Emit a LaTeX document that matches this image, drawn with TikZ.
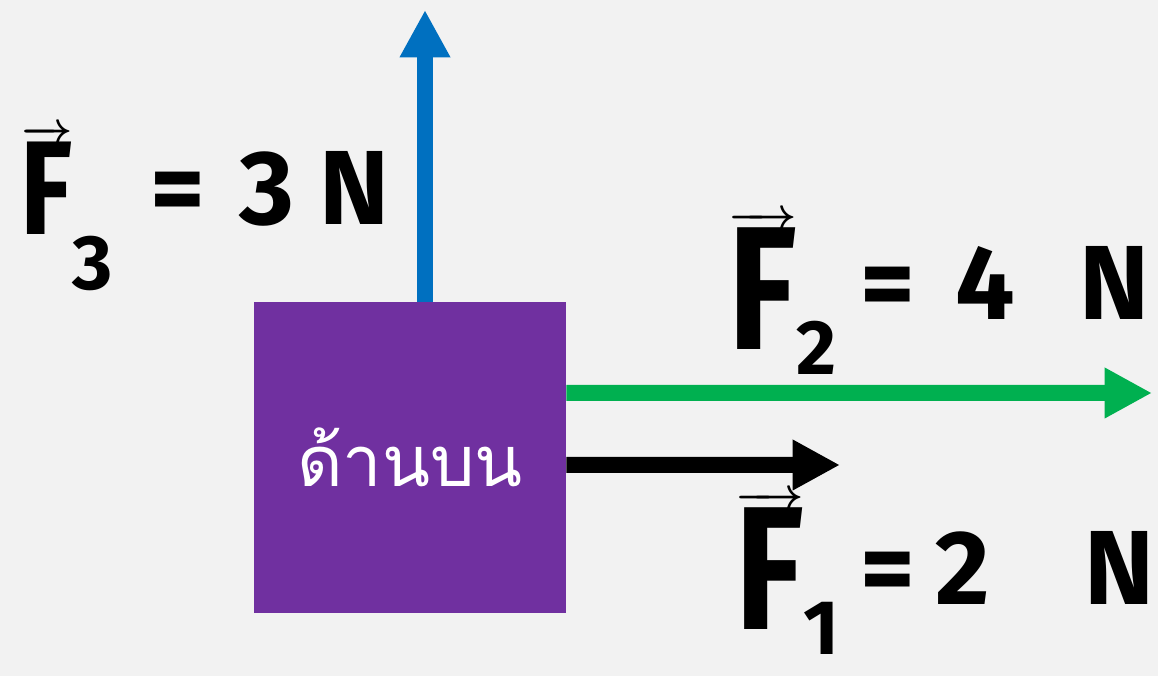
\documentclass[tikz,border=0pt]{standalone}
\usepackage{amsmath}
\usepackage{graphicx}
\usepackage{fontspec}
\usepackage{tikz}
\usetikzlibrary{arrows.meta,positioning,calc}
\newfontfamily\thaifont[Script=Thai]{Loma}
\newfontfamily\handfont{Fira Sans}
\definecolor{bgc}{HTML}{F2F2F2}
\definecolor{boxc}{HTML}{7030A0}
\definecolor{fthree}{HTML}{0070C0}
\definecolor{ftwo}{HTML}{00B050}
\definecolor{fone}{HTML}{000000}
\tikzset{
  block/.style={fill=boxc, minimum width=6.24cm, minimum height=6.22cm, inner sep=0pt,
               text=white, font=\thaifont\fontsize{40}{44}\selectfont},
  force/.style={draw=#1, line width=0.32cm, -{Triangle[length=0.95cm,width=0.95cm]}},
  sym/.style={anchor=base west, inner sep=0pt, font=\handfont\bfseries\fontsize{44}{48}\selectfont},
  val/.style={anchor=base west, inner sep=0pt, font=\handfont\bfseries\fontsize{60}{66}\selectfont},
}
% F with arrow: size, subscript, kern, drop
\newcommand{\fsym}[4]{{\fontsize{#1}{#1}\selectfont\boldmath$\overrightarrow{\text{\scalebox{0.8}[1]{F}}}$}\hspace{#3}\raisebox{-#4}{#2}}
\begin{document}
\begin{tikzpicture}
  \fill[bgc] (0,0) rectangle (23.16,13.52);
  \useasboundingbox (0,0) rectangle (23.16,13.52);
  \node[block] (box) at (8.2,4.37) {ด้านบน};
  \coordinate (f3tip) at (8.5,13.32);
  \coordinate (f2tip) at (23.04,5.66);
  \coordinate (f1tip) at (16.8,4.22);
  \draw[force=fthree] ([xshift=0.3cm]box.north) -- (f3tip);
  \draw[force=ftwo] ([yshift=1.29cm]box.east) -- (f2tip);
  \draw[force=fone] ([yshift=-0.15cm]box.east) -- (f1tip);
  % labels
  \node[sym] (f3sym) at (0.4,8.82) {\fsym{76}{3}{0pt}{1.1cm}};
  \node[val] (f3val) at (3.0,9.02) {=\hspace{0.7cm}3\hspace{0.5cm}N};
  \node[sym] (f2sym) at (14.56,6.52) {\fsym{100}{2}{0pt}{0.5cm}};
  \node[val] (f2val) at (17.2,7.12) {=\hspace{0.8cm}4\hspace{1.3cm}N};
  \node[sym] (f1sym) at (14.7,0.92) {\fsym{100}{1}{0pt}{0.5cm}};
  \node[val] (f1val) at (17.2,1.42) {=\hspace{0.4cm}2\hspace{1.9cm}N};
\end{tikzpicture}
\end{document}
